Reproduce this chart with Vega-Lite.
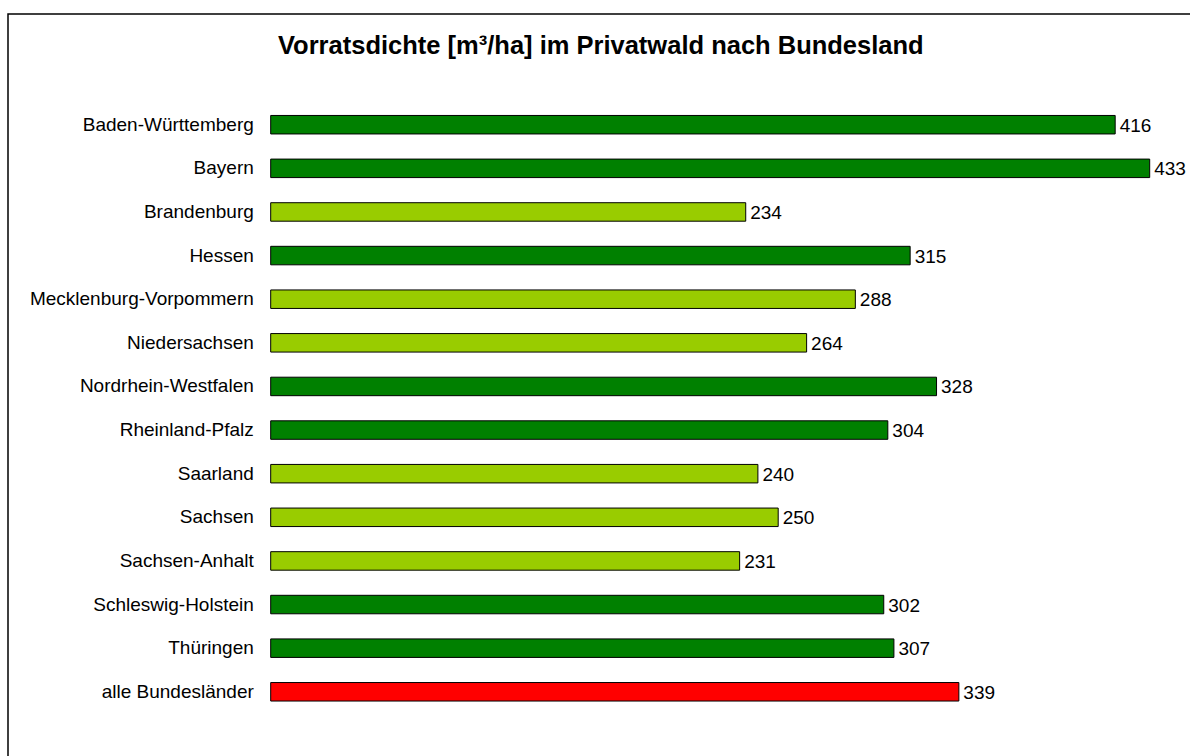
{
  "$schema": "https://vega.github.io/schema/vega-lite/v6.json",
  "autosize": "none",
  "padding": {"left": 8, "top": 14, "right": 0, "bottom": 0},
  "width": 1300,
  "height": 743,
  "background": "white",
  "config": {
    "view": {"stroke": "#000000", "strokeWidth": 1.5, "fill": "white"},
    "font": "Liberation Sans"
  },
  "title": {
    "text": "Vorratsdichte [m³/ha] im Privatwald nach Bundesland",
    "font": "Liberation Sans",
    "fontSize": 25.5,
    "fontWeight": "bold",
    "color": "#000000",
    "anchor": "start",
    "frame": "group",
    "baseline": "alphabetic",
    "dx": 270,
    "offset": -65.5
  },
  "data": {
    "values": [
      {"land": "Baden-Württemberg", "wert": 416, "typ": "hoch"},
      {"land": "Bayern", "wert": 433, "typ": "hoch"},
      {"land": "Brandenburg", "wert": 234, "typ": "niedrig"},
      {"land": "Hessen", "wert": 315, "typ": "hoch"},
      {"land": "Mecklenburg-Vorpommern", "wert": 288, "typ": "niedrig"},
      {"land": "Niedersachsen", "wert": 264, "typ": "niedrig"},
      {"land": "Nordrhein-Westfalen", "wert": 328, "typ": "hoch"},
      {"land": "Rheinland-Pfalz", "wert": 304, "typ": "hoch"},
      {"land": "Saarland", "wert": 240, "typ": "niedrig"},
      {"land": "Sachsen", "wert": 250, "typ": "niedrig"},
      {"land": "Sachsen-Anhalt", "wert": 231, "typ": "niedrig"},
      {"land": "Schleswig-Holstein", "wert": 302, "typ": "hoch"},
      {"land": "Thüringen", "wert": 307, "typ": "hoch"},
      {"land": "alle Bundesländer", "wert": 339, "typ": "gesamt"}
    ]
  },
  "encoding": {
    "y": {
      "field": "land",
      "type": "nominal",
      "sort": null,
      "title": null,
      "scale": {"range": [88.9, 699.6], "paddingInner": 0.576, "paddingOuter": 0.288},
      "axis": {
        "domain": false,
        "ticks": false,
        "grid": false,
        "labelPadding": 0,
        "offset": -245.3,
        "labelFont": "Liberation Sans",
        "labelFontSize": 19,
        "labelColor": "#000000",
        "labelLimit": 400
      }
    },
    "x": {
      "field": "wert",
      "type": "quantitative",
      "scale": {"domain": [0, 450], "range": [262.7, 1176.2], "nice": false, "zero": true},
      "axis": null
    }
  },
  "layer": [
    {
      "mark": {"type": "bar", "stroke": "#000000", "strokeWidth": 1, "cornerRadius": 0},
      "encoding": {
        "color": {
          "field": "typ",
          "type": "nominal",
          "scale": {"domain": ["hoch", "niedrig", "gesamt"], "range": ["#008000", "#99CC00", "#FF0000"]},
          "legend": null
        }
      }
    },
    {
      "mark": {"type": "text", "align": "left", "baseline": "middle", "dx": 4.5, "dy": 1, "font": "Liberation Sans", "fontSize": 19, "color": "#000000"},
      "encoding": {
        "text": {"field": "wert", "type": "quantitative"}
      }
    }
  ]
}
